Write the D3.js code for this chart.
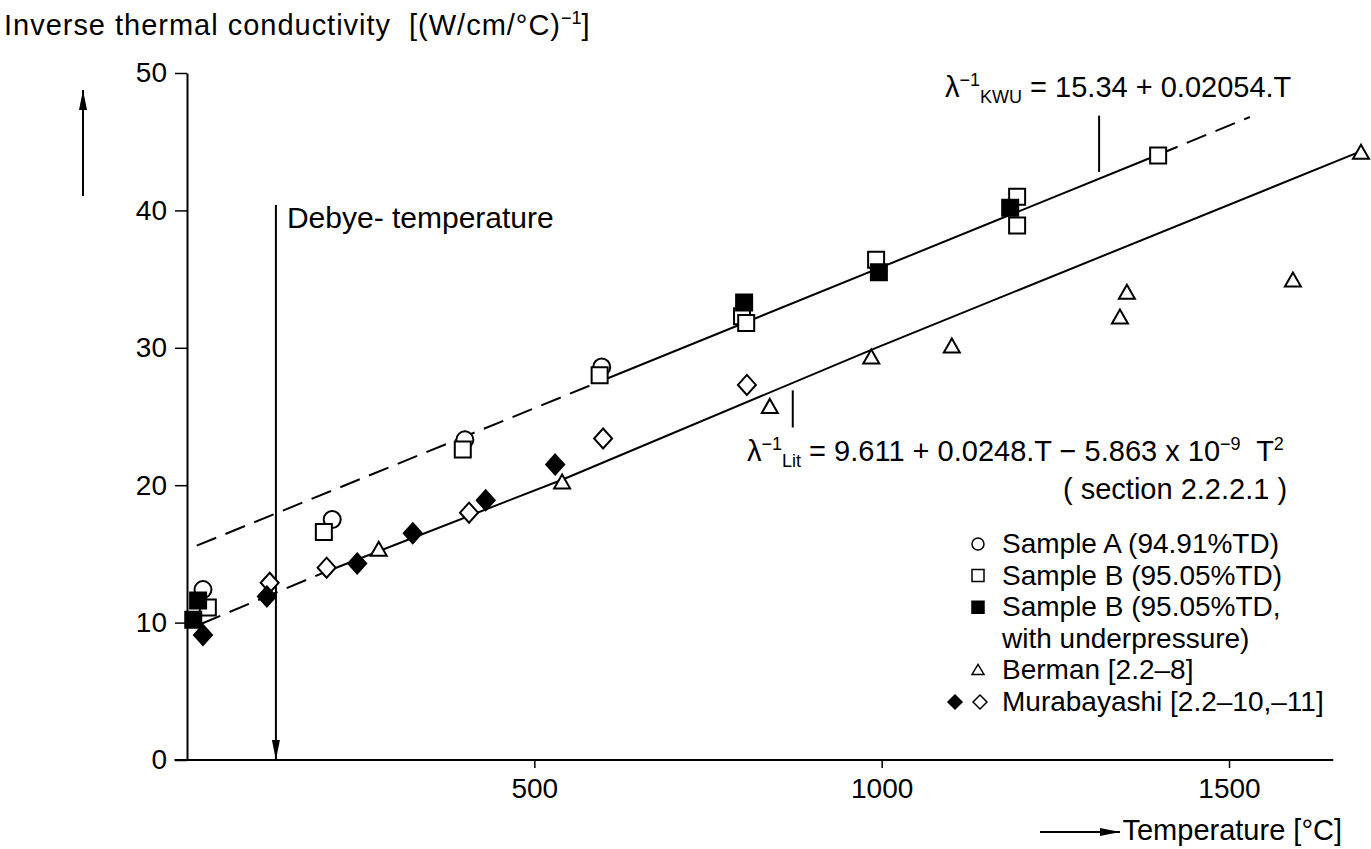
<!DOCTYPE html>
<html>
<head>
<meta charset="utf-8">
<script src="https://cdn.jsdelivr.net/npm/d3@7"></script>
<style>
  body { margin: 0; background: #fff; }
  text { font-family: "Liberation Sans", Arial, sans-serif; fill: #000; white-space: pre; }
</style>
</head>
<body>
<div id="chart"></div>
<script>
// data: [temperature °C, inverse conductivity]
var sampleA      = [[23,12.4],[209,17.5],[400,23.3],[597,28.6]];
var sampleB      = [[30,11.1],[197,16.6],[397,22.6],[594,28.0],[799,32.3],[805,31.8],[992,36.4],[1195,41.0],[1195,38.9],[1398,44.0]];
var sampleBUnder = [[16,11.6],[9,10.2],[802,33.3],[996,35.5],[1185,40.2]];
var berman       = [[276,15.3],[540,20.2],[839,25.7],[985,29.3],[1101,30.1],[1343,32.2],[1353,34.0],[1592,34.9],[1690,44.2]];
var muraFilled   = [[23,9.1],[115,11.9],[245,14.3],[325,16.5],[430,18.9],[530,21.5]];
var muraOpen     = [[119,12.9],[201,14.0],[406,18.0],[599,23.4],[806,27.3]];

// fit lines (KWU and literature)
var kwuDashLeft  = [[14,15.6],[597,27.6]];
var kwuSolid     = [[597,27.6],[1398,44.05]];
var kwuDashRight = [[1398,44.05],[1530,46.8]];
var litDash      = [[20,9.9],[200,13.7]];
var litSolid     = [[200,13.7],[540,20.4],[992,30.0],[1685,44.2]];

var xTicks = [500, 1000, 1500];
var yTicks = [0, 10, 20, 30, 40, 50];
var xAxisExtent = [-18, 1650];
var debyeT = 128, debyeTop = 40.4;
var kwuLeader = [1313, 46.9, 42.8];
var litLeader = [872, 26.9, 24.2];

var width = 1371, height = 849;

var svg = d3.select("#chart")
  .append("svg")
    .attr("width", width)
    .attr("height", height);

var x = d3.scaleLinear().domain([0, 1500]).range([187, 1229]);
var y = d3.scaleLinear().domain([0, 50]).range([760, 73]);

// arrowheads
var defs = svg.append("defs");
defs.append("marker")
    .attr("id", "arrow")
    .attr("viewBox", "0 0 20 10")
    .attr("refX", 20).attr("refY", 5)
    .attr("markerWidth", 20).attr("markerHeight", 10)
    .attr("markerUnits", "userSpaceOnUse")
    .attr("orient", "auto")
  .append("path")
    .attr("d", "M0,1 L20,5 L0,9 Z")
    .attr("fill", "#000");

// X axis
svg.append("line")
    .attr("x1", x(xAxisExtent[0])).attr("x2", x(xAxisExtent[1]))
    .attr("y1", y(0)).attr("y2", y(0))
    .attr("stroke", "#000").attr("stroke-width", 2);
var xAxis = svg.append("g")
    .attr("transform", "translate(0," + y(0) + ")")
    .call(d3.axisBottom(x).tickValues(xTicks).tickFormat(d3.format("d"))
      .tickSize(8).tickPadding(10).tickSizeOuter(0));
xAxis.select(".domain").remove();
xAxis.selectAll("line").attr("stroke-width", 1.5);
xAxis.selectAll("text").style("font-size", "28px").attr("font-family", null);

// Y axis
var yAxis = svg.append("g")
    .attr("transform", "translate(" + x(0) + ",0)")
    .call(d3.axisLeft(y).tickValues(yTicks).tickSize(12).tickPadding(8).tickSizeOuter(0));
yAxis.select(".domain").attr("stroke-width", 2);
yAxis.selectAll("line").attr("stroke-width", 1.5);
yAxis.selectAll("text").style("font-size", "28px").attr("font-family", null);

// line generator
var line = d3.line()
    .x(function(d) { return x(d[0]); })
    .y(function(d) { return y(d[1]); });

function drawLine(data, dashed) {
  svg.append("path")
    .datum(data)
    .attr("d", line)
    .attr("fill", "none")
    .attr("stroke", "#000")
    .attr("stroke-width", 2)
    .attr("stroke-dasharray", dashed ? "21,10" : null);
}
drawLine(kwuDashLeft, true);
drawLine(kwuSolid, false);
drawLine(kwuDashRight, true);
drawLine(litDash, true);
drawLine(litSolid, false);

// leaders to the equations
[kwuLeader, litLeader].forEach(function(l) {
  svg.append("line")
    .attr("x1", x(l[0])).attr("x2", x(l[0]))
    .attr("y1", y(l[1])).attr("y2", y(l[2]))
    .attr("stroke", "#000").attr("stroke-width", 2);
});

// Debye temperature arrow
svg.append("line")
    .attr("x1", x(debyeT)).attr("x2", x(debyeT))
    .attr("y1", y(debyeTop)).attr("y2", y(0))
    .attr("stroke", "#000").attr("stroke-width", 2)
    .attr("marker-end", "url(#arrow)");
svg.append("text")
    .attr("x", x(debyeT) + 11).attr("y", y(debyeTop) + 23)
    .style("font-size", "30px")
    .text("Debye- temperature");

// marker shapes
var shapes = {
  circle:   d3.symbol().type(d3.symbolCircle).size(Math.PI * 8.5 * 8.5)(),
  square:   "M-8,-8H8V8H-8Z",
  triangle: "M0,-8L8,6H-8Z",
  diamond:  "M0,-10L9,0L0,10L-9,0Z"
};

function drawPoints(data, shape, filled) {
  svg.append("g")
    .selectAll("path")
    .data(data)
    .enter()
    .append("path")
      .attr("transform", function(d) { return "translate(" + x(d[0]) + "," + y(d[1]) + ")"; })
      .attr("d", shapes[shape])
      .attr("fill", filled ? "#000" : "#fff")
      .attr("stroke", "#000")
      .attr("stroke-width", 2);
}
drawPoints(berman, "triangle", false);
drawPoints(muraOpen, "diamond", false);
drawPoints(muraFilled, "diamond", true);
drawPoints(sampleA, "circle", false);
drawPoints(sampleB, "square", false);
drawPoints(sampleBUnder, "square", true);

// axis titles
var title = svg.append("text").attr("x", 4).attr("y", 35).style("font-size", "29px");
title.append("tspan")
    .attr("textLength", 556).attr("lengthAdjust", "spacing")
    .text("Inverse thermal conductivity  [(W/cm/°C)");
title.append("tspan").attr("dy", -11).style("font-size", "18px").text("−1");
title.append("tspan").attr("dy", 11).text("]");

svg.append("line")
    .attr("x1", 83).attr("x2", 83).attr("y1", 196).attr("y2", 90)
    .attr("stroke", "#000").attr("stroke-width", 2)
    .attr("marker-end", "url(#arrow)");

svg.append("line")
    .attr("x1", 1040).attr("x2", 1120).attr("y1", 832).attr("y2", 832)
    .attr("stroke", "#000").attr("stroke-width", 2)
    .attr("marker-end", "url(#arrow)");
svg.append("text")
    .attr("x", 1342).attr("y", 840)
    .attr("text-anchor", "end")
    .style("font-size", "29px")
    .text("Temperature [°C]");

// equations
var eq1 = svg.append("text").attr("x", 945).attr("y", 97).style("font-size", "29px");
eq1.append("tspan").text("λ");
eq1.append("tspan").attr("dy", -11).style("font-size", "18px").text("−1");
eq1.append("tspan").attr("dy", 17).style("font-size", "18px").text("KWU");
eq1.append("tspan").attr("dy", -6).text(" = 15.34 + 0.02054.T");

var eq2 = svg.append("text").attr("x", 747).attr("y", 461).style("font-size", "29px");
eq2.append("tspan").text("λ");
eq2.append("tspan").attr("dy", -11).style("font-size", "18px").text("−1");
eq2.append("tspan").attr("dy", 17).style("font-size", "18px").text("Lit");
eq2.append("tspan").attr("dy", -6).text(" = 9.611 + 0.0248.T − 5.863 x 10");
eq2.append("tspan").attr("dy", -11).style("font-size", "18px").text("−9");
eq2.append("tspan").attr("dy", 11).text("  T");
eq2.append("tspan").attr("dy", -11).style("font-size", "18px").text("2");

svg.append("text")
    .attr("x", 1063).attr("y", 499)
    .style("font-size", "29px")
    .text("( section 2.2.2.1 )");

// legend
var legendRows = [
  { sym: ["circle"], filled: [false], label: "Sample A (94.91%TD)" },
  { sym: ["square"], filled: [false], label: "Sample B (95.05%TD)" },
  { sym: ["square"], filled: [true],  label: "Sample B (95.05%TD," },
  { sym: [],         filled: [],      label: "with underpressure)" },
  { sym: ["triangle"], filled: [false], label: "Berman [2.2–8]" },
  { sym: ["diamond", "diamond"], filled: [true, false], label: "Murabayashi [2.2–10,–11]" }
];
var legendShapes = {
  circle:   d3.symbol().type(d3.symbolCircle).size(Math.PI * 6 * 6)(),
  square:   "M-6,-6H6V6H-6Z",
  triangle: "M0,-6L6,4H-6Z",
  diamond:  "M0,-7L7,0L0,7L-7,0Z"
};
var legend = svg.append("g").attr("transform", "translate(1002,553)");
legendRows.forEach(function(r, i) {
  var gy = i * 31.6;
  legend.append("text").attr("x", 0).attr("y", gy).style("font-size", "28px").text(r.label);
  r.sym.forEach(function(s, j) {
    var sx = r.sym.length === 2 ? (j === 0 ? -47 : -22) : -24;
    legend.append("path")
      .attr("transform", "translate(" + sx + "," + (gy - 9) + ")")
      .attr("d", legendShapes[s])
      .attr("fill", r.filled[j] ? "#000" : "#fff")
      .attr("stroke", "#000")
      .attr("stroke-width", 1.5);
  });
});
</script>
</body>
</html>
